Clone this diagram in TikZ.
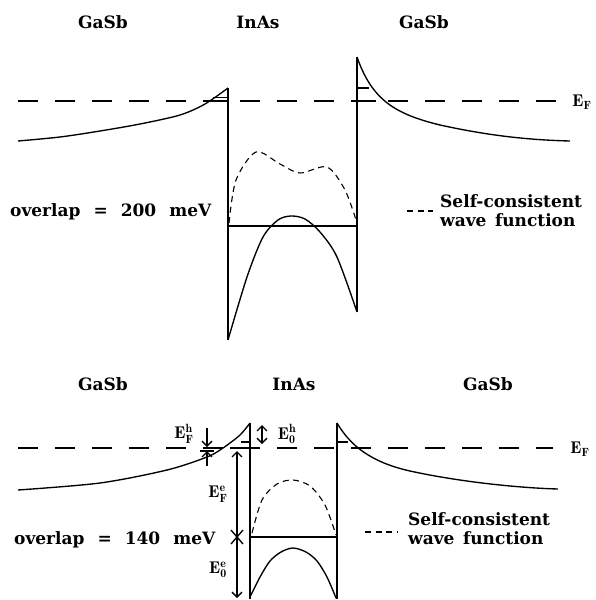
\documentclass[tikz,border=0pt]{standalone}
\usepackage{amsmath}
\usepackage{fontspec}
\newfontfamily\labelfont{DejaVu Serif}
\usepackage{tikz}
\usetikzlibrary{arrows.meta,positioning,calc}

\begin{document}
\begin{tikzpicture}[x=1pt,y=-1pt,
    band/.style={line width=1.35pt},
    fermi/.style={line width=1.2pt, dash pattern=on 20pt off 17pt},
    wave/.style={line width=1.1pt, dash pattern=on 6pt off 4.5pt},
    lbl/.style={font=\fontsize{17}{19}\selectfont\labelfont\bfseries, inner sep=0pt},
    elbl/.style={font=\fontsize{17}{20}\selectfont, inner sep=0pt},
    >={Straight Barb[length=5pt,width=10pt]}]
\useasboundingbox (0,0) rectangle (595,600);

% ---------- top: overlap 200 meV ----------
\node[lbl] (gaL1) at (103,22) {GaSb};
\node[lbl] (inas1) at (258,22) {InAs};
\node[lbl] (gaR1) at (424,22) {GaSb};

% Fermi level
\draw[fermi] (18,101) -- (565,101);
\node[elbl] (ef1) at (582,102) {$\mathbf{E}_{\mathbf{F}}$};

% GaSb bands
\draw[band] plot[smooth] coordinates {(18,141) (60,137) (100,131) (140,124) (180,115) (205,104) (228,88)};
\draw[band] (357,57) .. controls (372,100) and (395,114) .. (440,125)
                     .. controls (490,136) and (530,140) .. (570,141);
\draw[band] (209,101) -- (228,101);
\draw[band] (213,97.5) -- (228,97.5);
\draw[band] (357,88) -- (369,88);
\draw[band] (357,101) -- (376,101);

% InAs well
\draw[band] (228,88) -- (228,340);
\draw[band] (357,57) -- (357,312);
\draw[band] (228,226) -- (357,226);
\draw[band] plot[smooth] coordinates {(228,340) (247,277) (263,237) (278,220) (291,216) (305,219) (320,232) (337,257) (357,312)};
\draw[wave] plot[smooth] coordinates {(229,223) (236,180) (256,152) (280,164) (300,173) (327,167) (345,190) (357,223)};

% Labels
\node[lbl, anchor=base west] (ov1) at (10,216) {overlap\hspace{13pt}=\hspace{13pt}200\hspace{13pt}meV};
\node[lbl, anchor=base west] (leg1a) at (440,207) {Self-consistent};
\node[lbl, anchor=base west] (leg1b) at (440,226) {wave\enspace function};
\draw[wave] ([xshift=-33pt,yshift=-4pt]leg1a.base west) -- ([xshift=-7pt,yshift=-4pt]leg1a.base west);

% ---------- bottom: overlap 140 meV ----------
\node[lbl] (gaL2) at (103,384) {GaSb};
\node[lbl] (inas2) at (294,384) {InAs};
\node[lbl] (gaR2) at (488,384) {GaSb};

% Fermi level
\draw[fermi] (18,448) -- (553,448);
\node[elbl] (ef2) at (580,449) {$\mathbf{E}_{\mathbf{F}}$};

% GaSb bands
\draw[band] plot[smooth] coordinates {(18,490) (100,483) (167,470) (207,457) (223,448) (240,435) (250,423)};
\draw[band] (337,423) .. controls (350,445) and (370,462) .. (410,471)
                     .. controls (460,482) and (520,488) .. (558,489);
\draw[band] (230,448) -- (258,448);
\draw[band] (241,442) -- (250,442);
\draw[band] (337,442) -- (348,442);

% InAs well
\draw[band] (250,423) -- (250,599);
\draw[band] (337,423) -- (337,599);
\draw[band] (250,537) -- (337,537);
\draw[band] plot[smooth] coordinates {(250,597) (260,577) (270,561) (281,552) (293,548) (306,552) (317,561) (327,577) (336,598)};
\draw[wave] plot[smooth] coordinates {(252,533) (262,500) (277,484) (293,480) (310,486) (325,505) (336,535)};

% Energies
\coordinate (hTop) at (207,428);
\coordinate (hLow) at (207,466);
\coordinate (hF) at (207,447);
\coordinate (hB) at (207,451);
\node[elbl] (EFh) at (184,434) {$\mathbf{E}^{\mathbf{h}}_{\mathbf{F}}$};
\draw[band,->] (hTop) -- (hF);
\draw[band,->] (hLow) -- (hB);
\draw[band] ([xshift=-7pt]hB) -- ([xshift=7pt]hB);

\coordinate (h0a) at (262,425);
\coordinate (h0b) at (262,444);
\draw[band,<->] (h0a) -- (h0b);
\node[elbl] (E0h) at (287,434) {$\mathbf{E}^{\mathbf{h}}_{\mathbf{0}}$};

\coordinate (xm) at (237,537);
\coordinate (eTop) at (237,451);
\coordinate (eBot) at (237,598);
\draw[band,->] (xm) -- (eTop);
\draw[band,->] (xm) -- (eBot);
\draw[band] ($(xm)+(-6,-7)$) -- ($(xm)+(6,7)$);
\draw[band] ($(xm)+(-6,7)$) -- ($(xm)+(6,-7)$);
\node[elbl] (EFe) at (218,494) {$\mathbf{E}^{\mathbf{e}}_{\mathbf{F}}$};
\node[elbl] (E0e) at (218,570) {$\mathbf{E}^{\mathbf{e}}_{\mathbf{0}}$};

% Labels
\node[lbl, anchor=base west] (ov2) at (14,544) {overlap\hspace{13pt}=\hspace{13pt}140\hspace{13pt}meV};
\node[lbl, anchor=base west] (leg2a) at (408,525) {Self-consistent};
\node[lbl, anchor=base west] (leg2b) at (408,544) {wave\enspace function};
\draw[wave] ([xshift=-43pt,yshift=-7pt]leg2a.base west) -- ([xshift=-11pt,yshift=-7pt]leg2a.base west);
\end{tikzpicture}
\end{document}
